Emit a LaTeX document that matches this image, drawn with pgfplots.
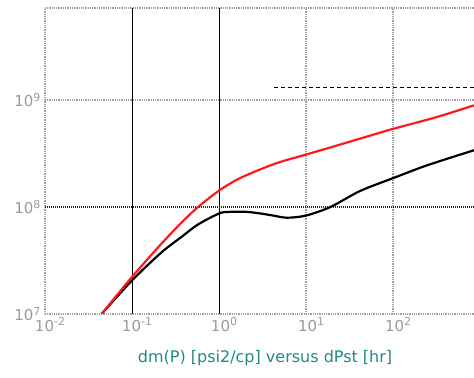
\documentclass[border=0pt]{standalone}
\usepackage{pgfplots}
\pgfplotsset{compat=1.18}
\usepackage{fontspec}
\setmainfont{DejaVu Sans}
\definecolor{labelteal}{HTML}{1F8A87}
\definecolor{tickgray}{HTML}{9A9A9A}
\definecolor{curvered}{HTML}{FF1A1A}
\tikzset{graydot/.style={draw=gray!75, line width=2.4bp, dash pattern=on 1bp off 0.8bp}}
\newcommand{\tl}[1]{10\raisebox{0.38em}{\fontsize{11bp}{11bp}\selectfont #1}}
\begin{document}
\begin{tikzpicture}
\begin{axis}[name=ax, scale only axis, width=429bp, height=306bp,
  xmode=log, ymode=log,
  xmin=0.01, xmax=851, ymin=1e7, ymax=7.24e9,
  axis y line*=left,
  axis line style={graydot},
  xtick={0.01,0.1,1,10,100},
  xticklabels={\tl{-2},\tl{-1},\tl{0},\tl{1},\tl{2}},
  ytick={1e7,1e8,1e9},
  yticklabels={\tl{7},\tl{8},\tl{9}},
  major tick length=0, minor tick length=0,
  xminorticks=false, yminorticks=false,
  ticklabel style={font=\fontsize{15bp}{15bp}\selectfont, text=tickgray},
  xticklabel style={xshift=5bp},
  yticklabel style={xshift=-1bp},
  xlabel={dm(P) [psi2/cp] versus dPst [hr]},
  xlabel style={at={(rel axis cs:0.513,0)}, anchor=center, yshift=-44bp,
    text=labelteal, font=\fontsize{16bp}{16bp}\selectfont},
]
% grid lines
\draw[black, line width=0.8bp] (axis cs:0.1,1e7) -- (axis cs:0.1,7.24e9);
\draw[black, line width=0.8bp] (axis cs:1,1e7) -- (axis cs:1,7.24e9);
\draw[graydot] (axis cs:10,1e7) -- (axis cs:10,7.24e9);
\draw[graydot] (axis cs:100,1e7) -- (axis cs:100,7.24e9);
\draw[graydot] (axis cs:0.01,1e9) -- (axis cs:851,1e9);
\draw[black!85, line width=1.2bp, dash pattern=on 1bp off 1bp] (axis cs:0.01,1e8) -- (axis cs:851,1e8);
% dashed reference line
\addplot[black, line width=0.8bp, dash pattern=on 4bp off 3bp] coordinates {(4.27,1.32e9) (851,1.32e9)};
% black curve
\addplot[black, line width=2.2bp, smooth, tension=0.5] coordinates {
(0.0447,1.0e7) (0.1,2.06e7) (0.2178,3.76e7) (0.370,5.25e7) (0.574,6.87e7)
(1,8.69e7) (1.274,8.99e7) (1.995,9.02e7) (2.951,8.71e7) (4.169,8.32e7)
(6.026,7.94e7) (10,8.32e7) (19.05,1.0e8) (41.69,1.41e8) (100,1.86e8)
(245.5,2.45e8) (851,3.39e8)};
% red curve
\addplot[curvered, line width=2.2bp, smooth, tension=0.5] coordinates {
(0.0447,1.0e7) (0.1,2.22e7) (0.2178,4.54e7) (0.370,7.13e7) (0.574,1.0e8)
(1,1.422e8) (1.652,1.82e8) (2.951,2.239e8) (5.012,2.63e8) (10,3.09e8)
(25.12,3.85e8) (64.57,4.84e8) (100,5.37e8) (316.2,6.92e8) (851,8.91e8)};
\end{axis}
\pgfresetboundingbox
\path ([shift={(-45bp,-64bp)}]ax.south west) rectangle ([shift={(0bp,8bp)}]ax.north east);
\end{tikzpicture}
\end{document}
